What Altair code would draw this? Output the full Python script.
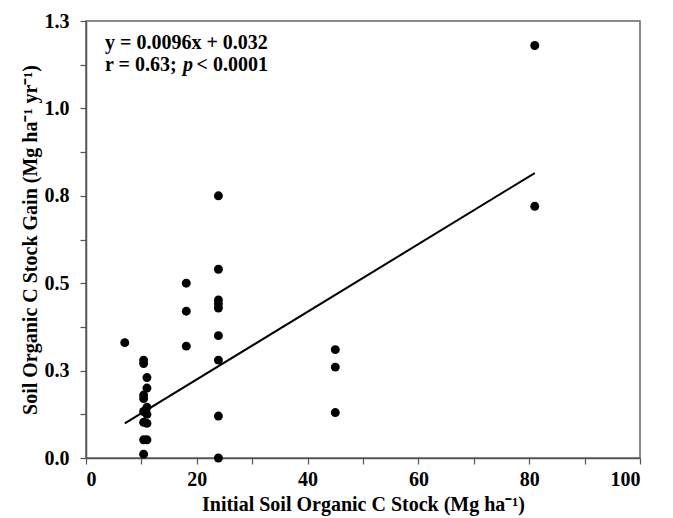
import altair as alt
import pandas as pd

# Scatter data
x_vals = [7.0,
          10.4, 10.4, 11.0, 11.0, 10.4, 10.4, 11.0, 10.4, 11.0, 10.4, 11.0, 10.4, 11.0, 10.4,
          18.1, 18.1, 18.1,
          23.9, 23.9, 23.9, 23.9, 23.9, 23.9, 23.9, 23.9, 23.9,
          45.0, 45.0, 45.0,
          81.0, 81.0]
y_vals = [0.33,
          0.28, 0.27, 0.23, 0.20, 0.18, 0.17, 0.145, 0.133, 0.125, 0.102, 0.099, 0.052, 0.052, 0.011,
          0.50, 0.42, 0.32,
          0.75, 0.54, 0.452, 0.441, 0.429, 0.35, 0.28, 0.12, 0.0,
          0.31, 0.26, 0.13,
          1.18, 0.72]

# Regression line endpoints
line_x = [7.0, 81.0]
line_y = [0.099, 0.815]

x_ticks = [0, 10, 20, 30, 40, 50, 60, 70, 80, 90, 100]
x_tick_labels = ["0", "", "20", "", "40", "", "60", "", "80", "", "100"]
y_ticks = [0, 0.125, 0.25, 0.375, 0.5, 0.625, 0.75, 0.875, 1.0, 1.125, 1.25]
y_tick_labels = ["0.0", "", "0.3", "", "0.5", "", "0.8", "", "1.0", "", "1.3"]

x_title = "Initial Soil Organic C Stock (Mg ha\u207b\u00b9)"
y_title = "Soil Organic C Stock Gain (Mg ha\u207b\u00b9 yr\u207b\u00b9)"

FONT = "Liberation Serif"
FS = 20


def label_expr(vals, labels):
    expr = "''"
    for v, l in zip(vals, labels):
        expr = f"abs(datum.value - {v}) < 1e-6 ? '{l}' : ({expr})"
    return expr


pts = pd.DataFrame({"x": x_vals, "y": y_vals})
ln = pd.DataFrame({"x": line_x, "y": line_y})

xscale = alt.Scale(domain=[0, 100], nice=False, zero=False)
yscale = alt.Scale(domain=[0, 1.25], nice=False, zero=False)

xaxis = alt.Axis(values=x_ticks, labelExpr=label_expr(x_ticks, x_tick_labels),
                 title=x_title, grid=False, tickSize=6, labelPadding=5,
                 titleY=52, titleBaseline="alphabetic")
yaxis = alt.Axis(values=y_ticks, labelExpr=label_expr(y_ticks, y_tick_labels),
                 title=y_title, grid=False, tickSize=6, labelPadding=11,
                 titleX=-50, titleBaseline="alphabetic")

points = alt.Chart(pts).mark_circle(size=80, color="black", opacity=1).encode(
    x=alt.X("x:Q", scale=xscale, axis=xaxis),
    y=alt.Y("y:Q", scale=yscale, axis=yaxis),
)

line = alt.Chart(ln).mark_line(color="black", strokeWidth=2).encode(
    x=alt.X("x:Q", scale=xscale),
    y=alt.Y("y:Q", scale=yscale),
)

txt_style = dict(font=FONT, fontSize=FS, fontWeight="bold", color="black",
                 baseline="middle")
t1 = alt.Chart(pd.DataFrame({"t": ["y = 0.0096x + 0.032"]})).mark_text(align="left", **txt_style).encode(
    text="t:N", x=alt.value(19), y=alt.value(22))
t2 = alt.Chart(pd.DataFrame({"t": ["r = 0.63;"]})).mark_text(align="left", **txt_style).encode(
    text="t:N", x=alt.value(19), y=alt.value(44))
t3 = alt.Chart(pd.DataFrame({"t": ["p"]})).mark_text(align="left", fontStyle="italic", **txt_style).encode(
    text="t:N", x=alt.value(97), y=alt.value(44))
t4 = alt.Chart(pd.DataFrame({"t": ["< 0.0001"]})).mark_text(align="right", **txt_style).encode(
    text="t:N", x=alt.value(182), y=alt.value(44))

chart = alt.layer(line, points, t1, t2, t3, t4).properties(
    width=554, height=437,
    autosize=alt.AutoSizeParams(type="none"),
    padding={"left": 78, "top": 13, "right": 25, "bottom": 58},
).configure_view(
    stroke="#666666", strokeWidth=1.5
).configure_axis(
    labelFont=FONT, labelFontSize=FS, labelFontWeight="bold", labelColor="black",
    titleFont=FONT, titleFontSize=FS, titleFontWeight="bold", titleColor="black",
    domainColor="#555555", domainWidth=1.5, tickColor="#555555", tickWidth=1.2,
)

chart.save("out.html", embed_options={"renderer": "svg", "actions": False})
